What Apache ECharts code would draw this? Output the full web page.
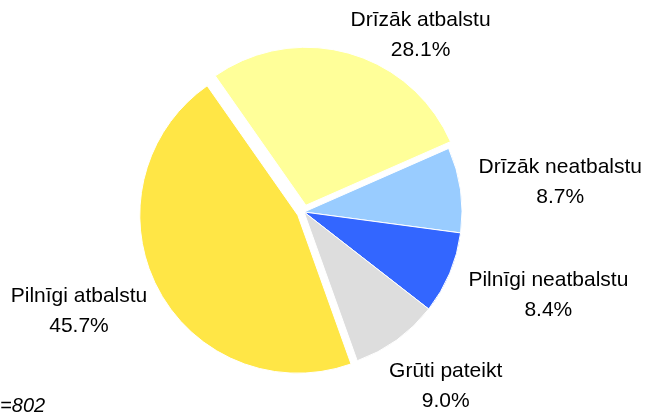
<!DOCTYPE html>
<html>
<head>
<meta charset="utf-8">
<title>Attieksme</title>
<script src="https://cdn.jsdelivr.net/npm/echarts@6/dist/echarts.min.js"></script>
<style>
    html, body { margin: 0; padding: 0; background: #fff; }
    #main { width: 646px; height: 415px; }
</style>
</head>
<body>
<div id="main"></div>
<script>
// answers, clockwise from the top
var categories = ['Drīzāk atbalstu', 'Drīzāk neatbalstu', 'Pilnīgi neatbalstu', 'Grūti pateikt', 'Pilnīgi atbalstu'];
var shares = [28.1, 8.7, 8.4, 9.0, 45.7];
var exploded = ['Drīzāk atbalstu', 'Pilnīgi atbalstu'];
var sampleNote = 'n=802';

var palette = ['#FFFF99', '#99CCFF', '#3366FF', '#DDDDDD', '#FFE646'];
var pieCenter = [304, 212];
var pieRadius = 158;
var startAngle = 125;
var font = '"Liberation Sans", Arial, sans-serif';

var total = shares.reduce(function (a, b) { return a + b; }, 0);

// middle of slice i, screen radians (clockwise)
function midAngle(i) {
    var before = 0;
    for (var k = 0; k < i; k++) before += shares[k];
    return (-startAngle + 360 * (before + shares[i] / 2) / total) * Math.PI / 180;
}

var chart = echarts.init(document.getElementById('main'));
chart.setOption({
    animation: false,
    color: palette,
    graphic: [{
        type: 'text',
        x: -11,
        y: 406,
        style: {
            text: sampleNote,
            font: 'italic 20px ' + font,
            fill: '#000',
            verticalAlign: 'middle'
        }
    }],
    series: [{
        // slices
        type: 'pie',
        center: pieCenter,
        radius: pieRadius,
        startAngle: startAngle,
        clockwise: true,
        selectedMode: 'multiple',
        selectedOffset: 7,
        itemStyle: { borderColor: '#fff', borderWidth: 1 },
        emphasis: { disabled: true },
        label: { show: false },
        labelLine: { show: false },
        data: categories.map(function (name, i) {
            return { name: name, value: shares[i], selected: exploded.indexOf(name) >= 0 };
        })
    }, {
        // labels only, same geometry, not exploded
        type: 'pie',
        silent: true,
        center: pieCenter,
        radius: pieRadius,
        startAngle: startAngle,
        clockwise: true,
        avoidLabelOverlap: false,
        itemStyle: { color: 'rgba(0,0,0,0)' },
        emphasis: { disabled: true },
        label: {
            show: true,
            position: 'outside',
            color: '#000',
            fontFamily: font,
            fontSize: 21,
            lineHeight: 30,
            formatter: function (p) {
                return p.name + '\n' + p.value.toFixed(1) + '%';
            }
        },
        labelLine: { show: false },
        labelLayout: function (p) {
            var a = midAngle(p.dataIndex);
            var ux = Math.cos(a), uy = Math.sin(a);
            var w = p.labelRect.width, h = p.labelRect.height;
            var W = chart.getWidth();
            var reach = pieRadius + 27;
            var sx = ux >= 0 ? 1 : -1;
            var x = pieCenter[0] + ux * reach + ux * w / 2;
            var y = pieCenter[1] + uy * reach + uy * h / 2;
            if (y - h / 2 < 5) {
                // pushed down from the top: slide sideways until it clears the pie
                y = 5 + h / 2;
                var gap = pieCenter[1] - (y + h / 2 - 4);
                var dx = Math.sqrt(Math.max(0, pieRadius * pieRadius - gap * gap));
                var nx = pieCenter[0] + sx * (dx + w / 2);
                if (sx * nx > sx * x) x = nx;
            }
            x = Math.min(x, W - 4 - w / 2);
            x = Math.max(x, 4 + w / 2);
            return { x: x, y: y, align: 'center', verticalAlign: 'middle' };
        },
        data: categories.map(function (name, i) {
            return { name: name, value: shares[i] };
        })
    }]
});
</script>
</body>
</html>
